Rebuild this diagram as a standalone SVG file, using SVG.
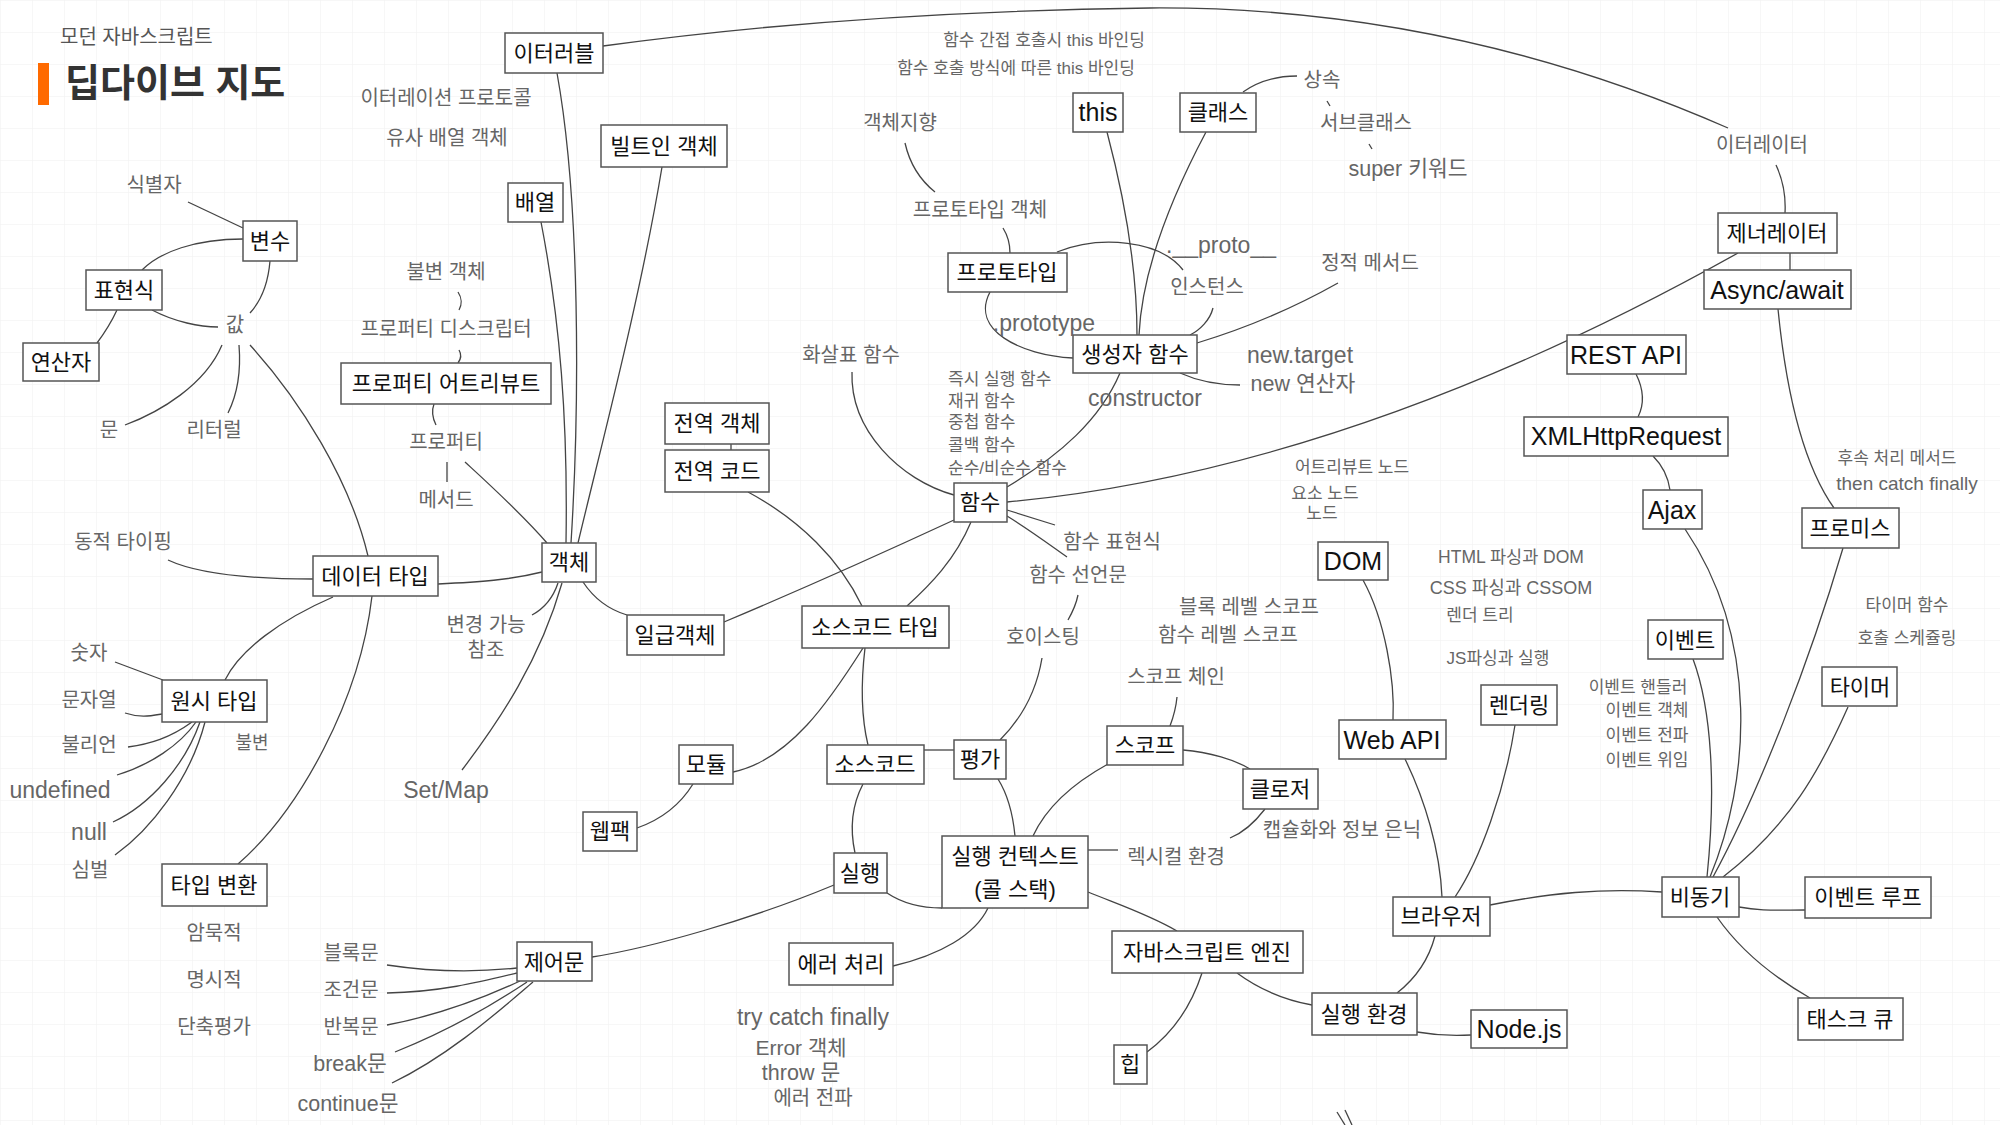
<svg xmlns="http://www.w3.org/2000/svg" width="2000" height="1125" viewBox="0 0 2000 1125">
<defs>
<pattern id="grid" width="32" height="32" patternUnits="userSpaceOnUse"><path d="M32 0H0V32" fill="none" stroke="#efefef" stroke-width="1"/></pattern>
<style>
.b{fill:#fff;stroke:#555;stroke-width:1.5}
text{font-family:"Liberation Sans","Noto Sans CJK KR",sans-serif;text-anchor:middle}
.t{font-size:22px;fill:#111}
.tl{font-size:25px;fill:#111}
.l{font-size:20px;fill:#666}
.ll{font-size:23px;fill:#666}
.lm{font-size:21.5px;fill:#666}
.s{font-size:17px;fill:#666}
.sl{font-size:19px;fill:#666}
.st{text-anchor:start}
#edges path{fill:none;stroke:#444;stroke-width:1.3}
</style>
</defs>
<rect width="2000" height="1125" fill="#fff"/>
<rect width="2000" height="1125" fill="url(#grid)"/>
<g id="title">
<text x="60" y="44" class="st" style="font-size:20px;fill:#555">모던 자바스크립트</text>
<rect x="38" y="63" width="11" height="42" fill="#ff6a00"/>
<text x="65" y="96" class="st" style="font-size:38px;font-weight:700;fill:#333">딥다이브 지도</text>
</g>
<g id="edges">
<path d="M188,202 L243,228"/>
<path d="M243,239 C195,239 160,252 142,270"/>
<path d="M270,261 C268,285 260,302 250,313"/>
<path d="M152,310 C175,322 200,327 218,327"/>
<path d="M117,310 C110,325 103,335 97,343"/>
<path d="M222,345 C205,385 160,412 125,425"/>
<path d="M239,345 C241,370 237,395 228,413"/>
<path d="M250,345 C300,400 350,480 368,556"/>
<path d="M168,560 C200,575 260,579 313,579"/>
<path d="M438,584 C480,582 510,580 542,572"/>
<path d="M333,597 C280,620 240,650 225,680"/>
<path d="M372,596 C360,700 300,810 238,864"/>
<path d="M115,662 L163,680"/>
<path d="M125,713 C140,718 150,716 162,714"/>
<path d="M192,722 C170,738 150,744 128,747"/>
<path d="M196,722 C180,745 150,765 117,775"/>
<path d="M200,722 C185,765 150,805 113,822"/>
<path d="M205,722 C190,780 150,830 115,855"/>
<path d="M458,292 C462,298 462,305 459,310"/>
<path d="M459,350 C462,355 461,359 458,363"/>
<path d="M434,404 C431,412 433,419 436,425"/>
<path d="M447,462 L447,482"/>
<path d="M465,462 C490,485 520,512 547,543"/>
<path d="M557,73 C580,200 580,400 571,543"/>
<path d="M541,222 C560,320 568,420 566,543"/>
<path d="M662,167 C640,300 600,450 578,543"/>
<path d="M583,582 C595,600 610,610 627,615"/>
<path d="M558,583 C553,598 545,608 532,615"/>
<path d="M562,583 C540,660 500,720 462,770"/>
<path d="M724,622 C800,590 900,545 954,520"/>
<path d="M731,444 L731,450"/>
<path d="M748,492 C800,520 840,560 862,606"/>
<path d="M971,522 C955,560 930,585 907,606"/>
<path d="M852,372 C850,430 900,480 954,495"/>
<path d="M863,648 C830,700 790,760 733,772"/>
<path d="M865,648 C860,690 862,720 868,745"/>
<path d="M693,784 C680,805 660,820 637,828"/>
<path d="M924,750 L954,750"/>
<path d="M863,784 C852,805 850,830 855,853"/>
<path d="M834,885 C750,920 650,948 592,957"/>
<path d="M887,893 C905,905 925,908 942,908"/>
<path d="M893,966 C940,955 975,935 988,908"/>
<path d="M387,965 C440,973 480,972 517,968"/>
<path d="M387,993 C440,992 480,982 517,973"/>
<path d="M387,1025 C440,1015 490,995 520,981"/>
<path d="M395,1052 C450,1030 500,1000 527,982"/>
<path d="M392,1083 C450,1055 500,1010 533,982"/>
<path d="M1042,658 C1035,700 1015,725 1000,740"/>
<path d="M1078,595 C1076,605 1072,613 1068,620"/>
<path d="M1007,510 L1055,525"/>
<path d="M1007,516 C1030,530 1050,545 1067,557"/>
<path d="M1120,373 C1100,420 1060,455 1007,487"/>
<path d="M1007,502 Q1350,470 1738,253"/>
<path d="M1180,373 C1200,382 1220,385 1240,385"/>
<path d="M1107,132 C1125,200 1137,270 1137,335"/>
<path d="M1206,132 C1170,200 1142,270 1139,335"/>
<path d="M1243,92 C1260,80 1280,76 1297,76"/>
<path d="M1327,101 L1330,106"/>
<path d="M1369,144 L1372,149"/>
<path d="M1213,308 C1210,320 1200,330 1190,335"/>
<path d="M1338,283 C1290,310 1240,330 1197,343"/>
<path d="M1057,252 C1100,235 1160,240 1183,270"/>
<path d="M990,292 C970,330 1020,355 1073,358"/>
<path d="M905,143 C910,165 920,180 935,192"/>
<path d="M1003,228 C1008,236 1010,244 1010,253"/>
<path d="M603,46 Q850,12 1150,8 Q1450,6 1728,128"/>
<path d="M1776,165 C1783,180 1786,195 1785,213"/>
<path d="M1790,253 L1790,270"/>
<path d="M1778,309 C1785,380 1800,460 1834,508"/>
<path d="M1636,374 C1644,390 1644,405 1638,417"/>
<path d="M1653,456 C1662,465 1668,476 1670,490"/>
<path d="M1685,529 C1760,640 1750,780 1710,877"/>
<path d="M1693,659 C1712,710 1716,790 1707,877"/>
<path d="M1843,548 C1810,660 1760,790 1713,877"/>
<path d="M1848,707 C1820,770 1790,825 1723,877"/>
<path d="M1739,907 C1760,911 1775,910 1805,910"/>
<path d="M1717,917 C1740,950 1770,975 1810,998"/>
<path d="M1363,580 C1385,620 1395,680 1393,720"/>
<path d="M1405,759 C1425,800 1440,850 1442,897"/>
<path d="M1515,725 C1505,790 1480,860 1455,897"/>
<path d="M1490,905 C1550,893 1600,888 1662,892"/>
<path d="M1397,993 C1420,975 1430,955 1435,936"/>
<path d="M1417,1032 C1440,1036 1455,1036 1471,1035"/>
<path d="M1237,973 C1260,990 1285,1000 1312,1005"/>
<path d="M1202,973 C1190,1010 1170,1035 1147,1052"/>
<path d="M1088,892 C1120,905 1150,915 1177,931"/>
<path d="M1088,850 L1118,850"/>
<path d="M1265,809 C1255,822 1245,832 1230,838"/>
<path d="M1183,750 C1210,752 1235,760 1250,769"/>
<path d="M1108,764 C1070,785 1045,810 1033,836"/>
<path d="M998,779 C1008,795 1013,815 1015,836"/>
<path d="M1177,697 C1176,708 1173,718 1170,726"/>
<path d="M1337,1112 L1345,1125"/>
<path d="M1345,1110 L1352,1125"/>
</g>
<g id="n-iterable"><rect class="b" x="505" y="33" width="98" height="40"/><text class="t" x="554" y="61">이터러블</text></g>
<g id="n-builtin"><rect class="b" x="601" y="125" width="126" height="42"/><text class="t" x="664" y="154">빌트인 객체</text></g>
<g id="n-array"><rect class="b" x="508" y="183" width="55" height="39"/><text class="t" x="535" y="210">배열</text></g>
<g id="n-var"><rect class="b" x="243" y="221" width="54" height="40"/><text class="t" x="270" y="249">변수</text></g>
<g id="n-expr"><rect class="b" x="86" y="270" width="76" height="40"/><text class="t" x="124" y="298">표현식</text></g>
<g id="n-op"><rect class="b" x="23" y="343" width="76" height="38"/><text class="t" x="61" y="370">연산자</text></g>
<g id="n-propattr"><rect class="b" x="341" y="363" width="210" height="41"/><text class="t" x="446" y="391">프로퍼티 어트리뷰트</text></g>
<g id="n-globalobj"><rect class="b" x="665" y="403" width="104" height="41"/><text class="t" x="717" y="431">전역 객체</text></g>
<g id="n-globalcode"><rect class="b" x="665" y="450" width="104" height="42"/><text class="t" x="717" y="479">전역 코드</text></g>
<g id="n-object"><rect class="b" x="542" y="543" width="54" height="39"/><text class="t" x="569" y="570">객체</text></g>
<g id="n-datatype"><rect class="b" x="313" y="556" width="125" height="40"/><text class="t" x="375" y="584">데이터 타입</text></g>
<g id="n-firstclass"><rect class="b" x="627" y="615" width="97" height="40"/><text class="t" x="675" y="643">일급객체</text></g>
<g id="n-srctype"><rect class="b" x="802" y="606" width="147" height="42"/><text class="t" x="875" y="635">소스코드 타입</text></g>
<g id="n-func"><rect class="b" x="954" y="483" width="53" height="39"/><text class="t" x="980" y="510">함수</text></g>
<g id="n-primitive"><rect class="b" x="162" y="680" width="105" height="42"/><text class="t" x="214" y="709">원시 타입</text></g>
<g id="n-typeconv"><rect class="b" x="162" y="864" width="105" height="42"/><text class="t" x="214" y="893">타입 변환</text></g>
<g id="n-module"><rect class="b" x="679" y="745" width="54" height="39"/><text class="t" x="706" y="772">모듈</text></g>
<g id="n-source"><rect class="b" x="827" y="745" width="97" height="39"/><text class="t" x="875" y="772">소스코드</text></g>
<g id="n-eval"><rect class="b" x="954" y="740" width="52" height="39"/><text class="t" x="980" y="767">평가</text></g>
<g id="n-webpack"><rect class="b" x="583" y="812" width="54" height="39"/><text class="t" x="610" y="839">웹팩</text></g>
<g id="n-exec"><rect class="b" x="834" y="853" width="53" height="40"/><text class="t" x="860" y="881">실행</text></g>
<g id="n-ctx"><rect class="b" x="942" y="836" width="146" height="72"/><text class="t" x="1015" y="864">실행 컨텍스트</text><text class="t" x="1015" y="897">(콜 스택)</text></g>
<g id="n-control"><rect class="b" x="517" y="942" width="75" height="39"/><text class="t" x="554" y="970">제어문</text></g>
<g id="n-error"><rect class="b" x="789" y="943" width="104" height="42"/><text class="t" x="841" y="972">에러 처리</text></g>
<g id="n-prototype"><rect class="b" x="948" y="253" width="119" height="39"/><text class="t" x="1007" y="280">프로토타입</text></g>
<g id="n-this"><rect class="b" x="1073" y="93" width="50" height="39"/><text class="tl" x="1098" y="121">this</text></g>
<g id="n-class"><rect class="b" x="1180" y="93" width="76" height="39"/><text class="t" x="1218" y="120">클래스</text></g>
<g id="n-ctor"><rect class="b" x="1073" y="335" width="124" height="38"/><text class="t" x="1135" y="362">생성자 함수</text></g>
<g id="n-generator"><rect class="b" x="1718" y="213" width="119" height="40"/><text class="t" x="1777" y="241">제너레이터</text></g>
<g id="n-async"><rect class="b" x="1704" y="270" width="147" height="39"/><text class="tl" x="1777" y="299">Async/await</text></g>
<g id="n-rest"><rect class="b" x="1567" y="335" width="119" height="39"/><text class="tl" x="1626" y="364">REST API</text></g>
<g id="n-xhr"><rect class="b" x="1524" y="417" width="204" height="39"/><text class="tl" x="1626" y="445">XMLHttpRequest</text></g>
<g id="n-ajax"><rect class="b" x="1643" y="490" width="59" height="39"/><text class="tl" x="1672" y="519">Ajax</text></g>
<g id="n-promise"><rect class="b" x="1802" y="508" width="97" height="40"/><text class="t" x="1850" y="536">프로미스</text></g>
<g id="n-dom"><rect class="b" x="1318" y="542" width="70" height="38"/><text class="tl" x="1353" y="570">DOM</text></g>
<g id="n-event"><rect class="b" x="1648" y="620" width="75" height="39"/><text class="t" x="1685" y="648">이벤트</text></g>
<g id="n-timer"><rect class="b" x="1822" y="667" width="75" height="39"/><text class="t" x="1860" y="695">타이머</text></g>
<g id="n-render"><rect class="b" x="1481" y="685" width="76" height="40"/><text class="t" x="1519" y="713">렌더링</text></g>
<g id="n-webapi"><rect class="b" x="1339" y="720" width="107" height="39"/><text class="tl" x="1392" y="749">Web API</text></g>
<g id="n-scope"><rect class="b" x="1107" y="726" width="76" height="39"/><text class="t" x="1145" y="753">스코프</text></g>
<g id="n-closure"><rect class="b" x="1243" y="769" width="75" height="40"/><text class="t" x="1280" y="797">클로저</text></g>
<g id="n-engine"><rect class="b" x="1112" y="931" width="191" height="42"/><text class="t" x="1207" y="960">자바스크립트 엔진</text></g>
<g id="n-browser"><rect class="b" x="1393" y="897" width="97" height="39"/><text class="t" x="1441" y="924">브라우저</text></g>
<g id="n-asyncnode"><rect class="b" x="1662" y="877" width="77" height="40"/><text class="t" x="1700" y="905">비동기</text></g>
<g id="n-eventloop"><rect class="b" x="1805" y="877" width="126" height="41"/><text class="t" x="1868" y="905">이벤트 루프</text></g>
<g id="n-runtime"><rect class="b" x="1312" y="993" width="105" height="42"/><text class="t" x="1364" y="1022">실행 환경</text></g>
<g id="n-node"><rect class="b" x="1471" y="1010" width="96" height="38"/><text class="tl" x="1519" y="1038">Node.js</text></g>
<g id="n-heap"><rect class="b" x="1114" y="1045" width="33" height="39"/><text class="t" x="1130" y="1072">힙</text></g>
<g id="n-taskqueue"><rect class="b" x="1798" y="998" width="105" height="42"/><text class="t" x="1850" y="1027">태스크 큐</text></g>
<g id="labels">
<g id="l-iterproto"><text class="l" x="446" y="105">이터레이션 프로토콜</text></g>
<g id="l-arraylike"><text class="l" x="447" y="145">유사 배열 객체</text></g>
<g id="l-ident"><text class="l" x="154" y="192">식별자</text></g>
<g id="l-value"><text class="l" x="235" y="332">값</text></g>
<g id="l-immobj"><text class="l" x="446" y="279">불변 객체</text></g>
<g id="l-descriptor"><text class="l" x="446" y="336">프로퍼티 디스크립터</text></g>
<g id="l-stmt"><text class="l" x="109" y="437">문</text></g>
<g id="l-literal"><text class="l" x="214" y="437">리터럴</text></g>
<g id="l-prop"><text class="l" x="446" y="449">프로퍼티</text></g>
<g id="l-method"><text class="l" x="446" y="507">메서드</text></g>
<g id="l-dyn"><text class="l" x="123" y="549">동적 타이핑</text></g>
<g id="l-mutable"><text class="l" x="486" y="632">변경 가능</text><text class="l" x="486" y="657">참조</text></g>
<g id="l-number"><text class="l" x="89" y="660">숫자</text></g>
<g id="l-string"><text class="l" x="89" y="707">문자열</text></g>
<g id="l-bool"><text class="l" x="89" y="752">불리언</text></g>
<g id="l-immut"><text class="l" x="252" y="749" style="font-size:18px">불변</text></g>
<g id="l-undef"><text class="ll" x="60" y="798">undefined</text></g>
<g id="l-null"><text class="ll" x="89" y="840">null</text></g>
<g id="l-symbol"><text class="l" x="90" y="877">심벌</text></g>
<g id="l-implicit"><text class="l" x="214" y="940">암묵적</text></g>
<g id="l-explicit"><text class="l" x="214" y="987">명시적</text></g>
<g id="l-shortcircuit"><text class="l" x="214" y="1034">단축평가</text></g>
<g id="l-block"><text class="l" x="351" y="960">블록문</text></g>
<g id="l-cond"><text class="l" x="351" y="997">조건문</text></g>
<g id="l-loop"><text class="l" x="351" y="1034">반복문</text></g>
<g id="l-break"><text class="lm" x="350" y="1071">break문</text></g>
<g id="l-continue"><text class="lm" x="348" y="1111">continue문</text></g>
<g id="l-setmap"><text class="ll" x="446" y="798">Set/Map</text></g>
<g id="l-oop"><text class="l" x="900" y="130">객체지향</text></g>
<g id="l-protoobj"><text class="l" x="980" y="217">프로토타입 객체</text></g>
<g id="l-thisind"><text class="s" x="1044" y="46">함수 간접 호출시 this 바인딩</text></g>
<g id="l-thiscall"><text class="s" x="1016" y="74">함수 호출 방식에 따른 this 바인딩</text></g>
<g id="l-arrow"><text class="l" x="851" y="362">화살표 함수</text></g>
<g id="l-inherit"><text class="l" x="1322" y="87">상속</text></g>
<g id="l-subclass"><text class="l" x="1366" y="130">서브클래스</text></g>
<g id="l-super"><text class="lm" x="1408" y="176">super 키워드</text></g>
<g id="l-proto"><text class="ll" x="1221" y="253">.__proto__</text></g>
<g id="l-instance"><text class="l" x="1207" y="294">인스턴스</text></g>
<g id="l-static"><text class="l" x="1370" y="270">정적 메서드</text></g>
<g id="l-prototype"><text class="ll" x="1044" y="331">.prototype</text></g>
<g id="l-newtarget"><text class="ll" x="1300" y="363">new.target</text></g>
<g id="l-newop"><text class="lm" x="1303" y="391">new 연산자</text></g>
<g id="l-constructor"><text class="ll" x="1145" y="406">constructor</text></g>
<g id="l-iterator"><text class="l" x="1762" y="152">이터레이터</text></g>
<g id="l-funclist">
<text class="s st" x="948" y="385">즉시 실행 함수</text>
<text class="s st" x="948" y="407">재귀 함수</text>
<text class="s st" x="948" y="428">중첩 함수</text>
<text class="s st" x="948" y="451">콜백 함수</text>
<text class="s st" x="948" y="474">순수/비순수 함수</text>
</g>
<g id="l-funcexpr"><text class="l" x="1112" y="549">함수 표현식</text></g>
<g id="l-funcdecl"><text class="l" x="1078" y="582">함수 선언문</text></g>
<g id="l-hoist"><text class="l" x="1043" y="644">호이스팅</text></g>
<g id="l-blockscope"><text class="l" x="1249" y="614">블록 레벨 스코프</text></g>
<g id="l-funcscope"><text class="l" x="1228" y="642">함수 레벨 스코프</text></g>
<g id="l-scopechain"><text class="l" x="1176" y="684">스코프 체인</text></g>
<g id="l-attrnode"><text class="s" x="1352" y="473">어트리뷰트 노드</text></g>
<g id="l-elemnode"><text class="s" x="1325" y="499">요소 노드</text></g>
<g id="l-node"><text class="s" x="1322" y="519">노드</text></g>
<g id="l-html"><text class="s" x="1511" y="563" style="font-size:17.5px">HTML 파싱과 DOM</text></g>
<g id="l-css"><text class="s" x="1511" y="594" style="font-size:18px">CSS 파싱과 CSSOM</text></g>
<g id="l-rtree"><text class="s" x="1480" y="621">렌더 트리</text></g>
<g id="l-js"><text class="s" x="1498" y="664">JS파싱과 실행</text></g>
<g id="l-then"><text class="s" x="1897" y="464">후속 처리 메서드</text><text class="sl" x="1907" y="490">then catch finally</text></g>
<g id="l-timerfn"><text class="s" x="1907" y="611">타이머 함수</text><text class="s" x="1907" y="644">호출 스케쥴링</text></g>
<g id="l-events">
<text class="s" x="1638" y="693">이벤트 핸들러</text>
<text class="s" x="1647" y="716">이벤트 객체</text>
<text class="s" x="1647" y="741">이벤트 전파</text>
<text class="s" x="1647" y="766">이벤트 위임</text>
</g>
<g id="l-encap"><text class="l" x="1342" y="837">캡슐화와 정보 은닉</text></g>
<g id="l-lexical"><text class="l" x="1176" y="864">렉시컬 환경</text></g>
<g id="l-trycatch"><text class="ll" x="813" y="1025">try catch finally</text></g>
<g id="l-errobj"><text class="lm" x="801" y="1055" style="font-size:21px">Error 객체</text></g>
<g id="l-throw"><text class="lm" x="801" y="1080">throw 문</text></g>
<g id="l-errprop"><text class="l" x="813" y="1105">에러 전파</text></g>
</g>
</svg>
